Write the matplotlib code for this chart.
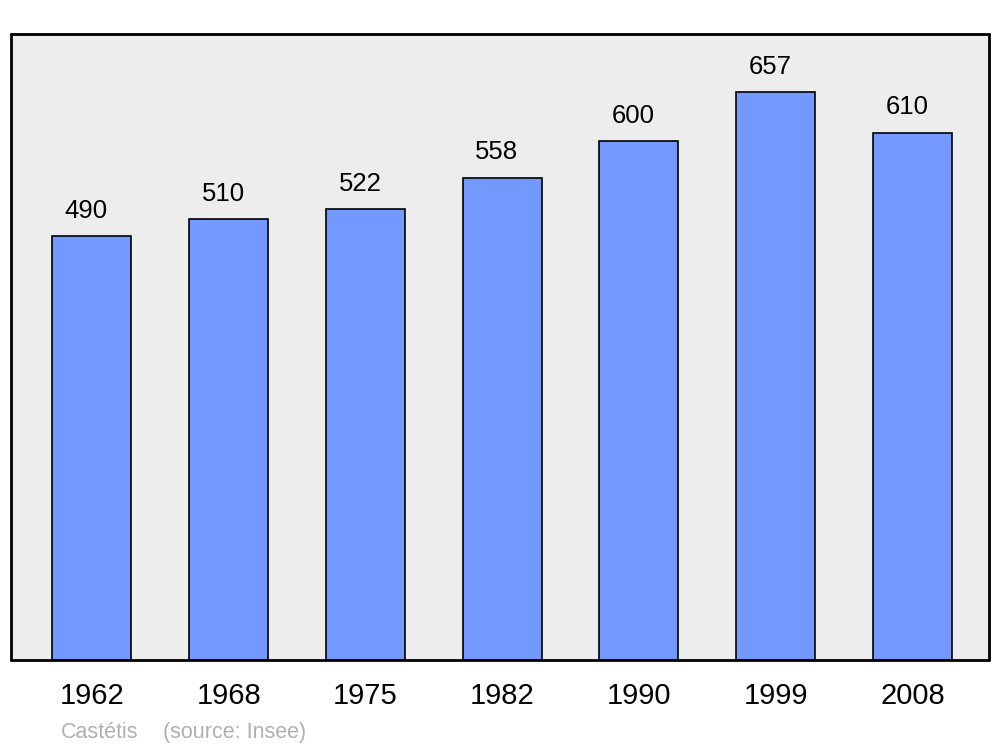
import matplotlib
matplotlib.use("Agg")
import matplotlib.pyplot as plt

# population by census year
years = ["1962", "1968", "1975", "1982", "1990", "1999", "2008"]
population = [490, 510, 522, 558, 600, 657, 610]

plt.rcParams["font.family"] = ["Liberation Sans", "DejaVu Sans"]

fig = plt.figure(figsize=(10, 7.47), dpi=100)
ax = fig.add_axes([0.011, 0.1165, 0.978, 0.838])
ax.set_facecolor("#ededed")

x = range(len(years))
bars = ax.bar(x, population, width=0.578, color="#7399ff",
              edgecolor="black", linewidth=1.2, zorder=2)

for xi, v in zip(x, population):
    ax.annotate(str(v), (xi, v), textcoords="offset points", xytext=(-4, 13),
                ha="center", va="baseline", fontsize=18.5)

ax.set_xlim(-0.592, 6.56)
ax.set_ylim(0, 724)
ax.set_xticks(list(x))
ax.set_xticklabels(years, fontsize=21)
ax.tick_params(axis="x", length=0, pad=16)
ax.set_yticks([])
for s in ax.spines.values():
    s.set_linewidth(2)
    s.set_capstyle("round")
    s.set_joinstyle("round")

fig.text(0.061, 0.012, "Castétis", color="#b0b0b0", fontsize=15.5)
fig.text(0.163, 0.012, "(source: Insee)", color="#b0b0b0", fontsize=15.5)

fig.savefig("out.png", dpi=100)
